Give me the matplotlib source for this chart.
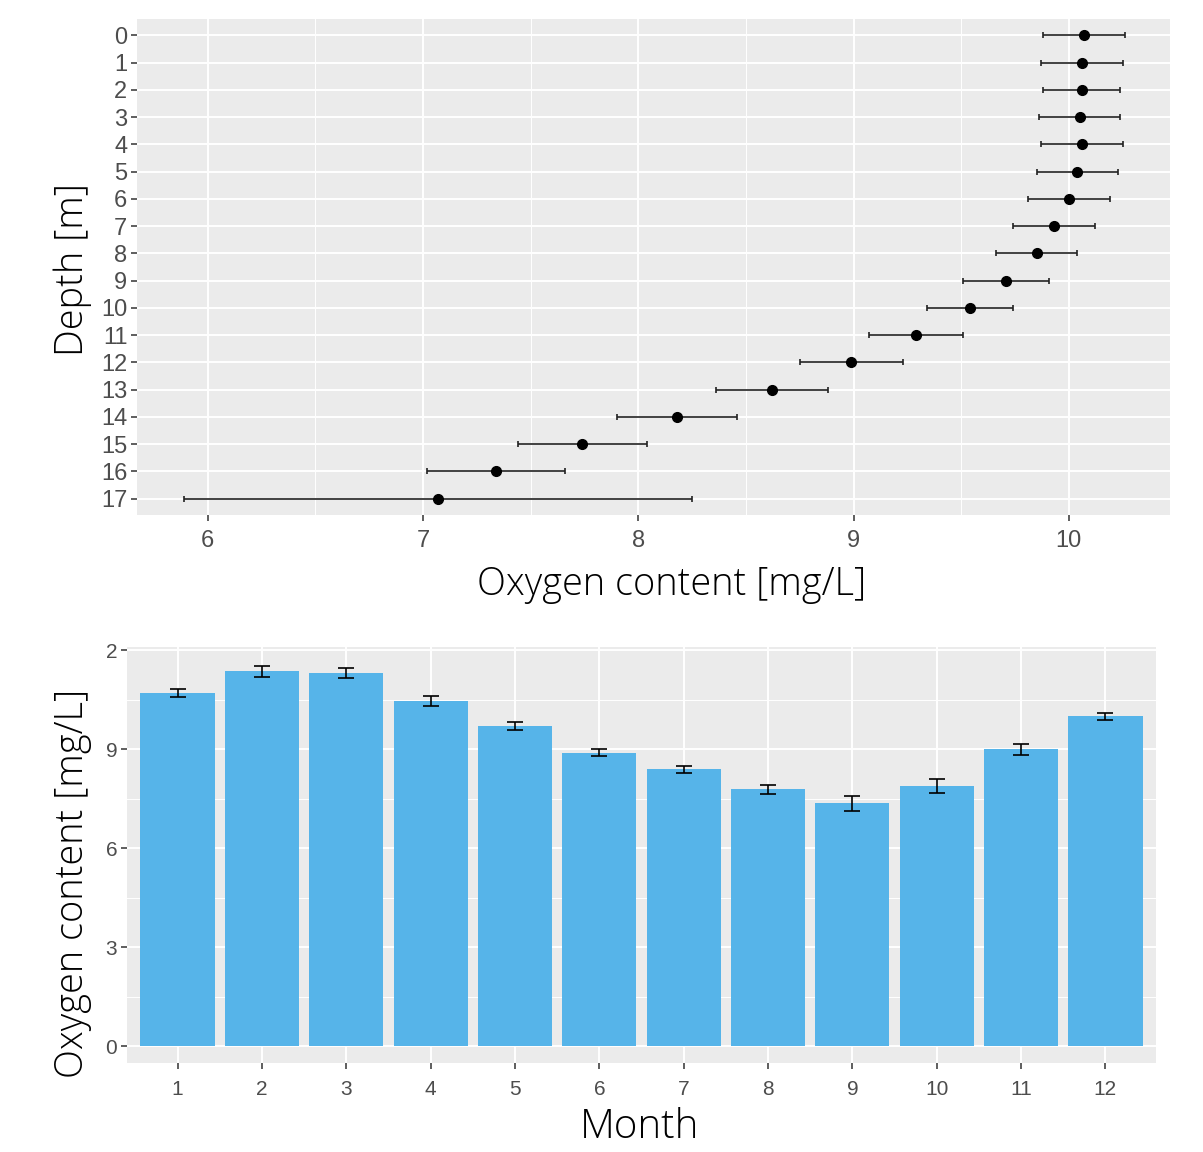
import matplotlib
matplotlib.use("Agg")
import matplotlib.pyplot as plt
from matplotlib.ticker import MultipleLocator

# depth profile (top panel)
depths = [0, 1, 2, 3, 4, 5, 6, 7, 8, 9, 10, 11, 12, 13, 14, 15, 16, 17]
oxygen_depth = [10.07, 10.06, 10.06, 10.05, 10.06, 10.04, 10.00, 9.93, 9.85, 9.71,
                9.54, 9.29, 8.99, 8.62, 8.18, 7.74, 7.34, 7.07]
err_depth = [0.19, 0.19, 0.18, 0.19, 0.19, 0.19, 0.19, 0.19, 0.19, 0.20,
             0.20, 0.22, 0.24, 0.26, 0.28, 0.30, 0.32, 1.18]

# monthly means (bottom panel)
months = [1, 2, 3, 4, 5, 6, 7, 8, 9, 10, 11, 12]
oxygen_month = [10.71, 11.36, 11.31, 10.46, 9.71, 8.90, 8.39, 7.79, 7.37, 7.89, 9.00, 10.00]
err_month = [0.11, 0.16, 0.16, 0.16, 0.11, 0.11, 0.10, 0.13, 0.23, 0.21, 0.16, 0.11]
month_yticks = [0, 3, 6, 9, 12]
month_yticklabels = ["0", "3", "6", "9", "2"]

bg = "#EBEBEB"
tick_col = "#4D4D4D"
tick_font = ["Liberation Sans Narrow", "Liberation Sans", "DejaVu Sans"]
title_font = ["Open Sans", "DejaVu Sans"]
bar_col = "#56B4E9"

W, H = 1203, 1152
fig = plt.figure(figsize=(W / 100, H / 100), dpi=100)


def px_axes(x0, y0, x1, y1):
    return fig.add_axes([x0 / W, 1 - y1 / H, (x1 - x0) / W, (y1 - y0) / H])


def gg_style(ax, size, pad):
    ax.set_facecolor(bg)
    for s in ax.spines.values():
        s.set_visible(False)
    ax.grid(which="major", color="white", lw=1.4, zorder=0)
    ax.grid(which="minor", color="white", lw=0.7, zorder=0)
    ax.set_axisbelow(True)
    ax.tick_params(which="major", length=4, width=1.1, color="#333333",
                   labelcolor=tick_col, labelsize=size, pad=pad)
    ax.tick_params(which="minor", length=0)
    for lab in ax.get_xticklabels() + ax.get_yticklabels():
        lab.set_family(tick_font)


# ---- top: oxygen vs depth
ax1 = px_axes(137, 19, 1170, 515)
ax1.errorbar(oxygen_depth, depths, xerr=err_depth, fmt="o", color="black",
             ecolor="#222222", elinewidth=1.2, capsize=2.5, capthick=1.2,
             markersize=7, zorder=3)
ax1.set_xlim(5.672, 10.47)
ax1.set_ylim(17.6, -0.6)
ax1.set_yticks(depths)
ax1.set_xticks([6, 7, 8, 9, 10])
ax1.xaxis.set_minor_locator(MultipleLocator(0.5))
gg_style(ax1, 17, 3)
ax1.tick_params(axis="x", pad=7)

# ---- bottom: oxygen by month
ax2 = px_axes(127, 647, 1156, 1063)
ax2.bar(months, oxygen_month, width=0.88, color=bar_col, zorder=2)
ax2.errorbar(months, oxygen_month, yerr=err_month, fmt="none", ecolor="black",
             elinewidth=1.2, capsize=5.5, capthick=1.2, zorder=3)
ax2.set_xlim(0.4, 12.6)
ax2.set_ylim(-0.5, 12.1)
ax2.set_xticks(months)
ax2.set_yticks(month_yticks)
ax2.set_yticklabels(month_yticklabels)
ax2.yaxis.set_minor_locator(MultipleLocator(1.5))
gg_style(ax2, 15, 3)
ax2.tick_params(axis="x", pad=8)

# axis titles
fig.text(672 / W, 1 - 585 / H, "Oxygen content [mg/L]", family=title_font,
         fontsize=27.3, fontweight="light", ha="center", va="center")
fig.text(73 / W, 1 - 270 / H, "Depth [m]", family=title_font, rotation=90,
         fontsize=27.3, fontweight="light", ha="center", va="center")
fig.text(640 / W, 1 - 1128 / H, "Month", family=title_font,
         fontsize=29, fontweight="light", ha="center", va="center")
fig.text(73 / W, 1 - 883 / H, "Oxygen content [mg/L]", family=title_font,
         rotation=90, fontsize=27.3, fontweight="light", ha="center", va="center")

fig.savefig("out.png", dpi=100)
